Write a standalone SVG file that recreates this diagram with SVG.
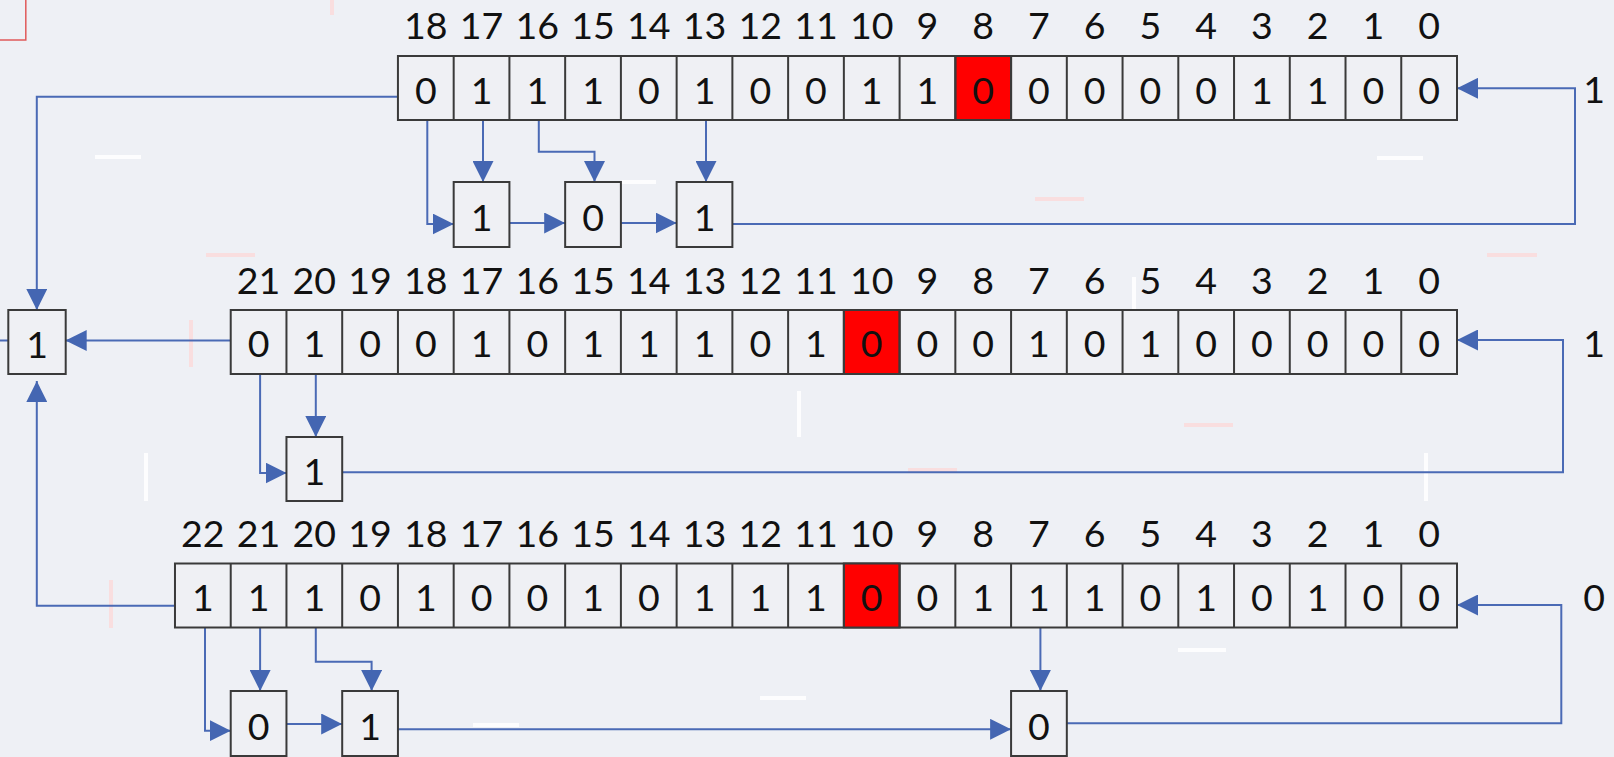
<svg xmlns="http://www.w3.org/2000/svg" width="1614" height="757" viewBox="0 0 1614 757">
<style>
.bx{fill:#eff0f4;stroke:#3a3a3a;stroke-width:2}
.red{fill:#ff0000;stroke:#3a3a3a;stroke-width:2}
.dv{fill:none;stroke:#3a3a3a;stroke-width:2}
.t{font-family:Lato,"Open Sans","Liberation Sans",sans-serif;font-size:37.5px;fill:#111;text-anchor:middle}
.c{fill:none;stroke:#4a6ab5;stroke-width:2}
.ca{fill:none;stroke:#4a6ab5;stroke-width:2;marker-end:url(#a)}
.wd{fill:#ffffff;opacity:0.85}
.pd{fill:#fbdada;opacity:0.8}
</style>
<defs>
<marker id="a" markerUnits="userSpaceOnUse" markerWidth="21" markerHeight="21" viewBox="0 0 21 21" refX="21" refY="10.5" orient="auto">
<path d="M0 0L21 10.5L0 21z" fill="#4466b2"/>
</marker>
</defs>
<rect x="0" y="0" width="1614" height="757" fill="#eef0f5"/>
<g id="decor">
<rect x="-5" y="-5" width="30.8" height="45" fill="none" stroke="#e05a5a" stroke-width="1.5"/>
<rect class="wd" x="95" y="155" width="46" height="4"/>
<rect class="wd" x="1377" y="156" width="46" height="4"/>
<rect class="wd" x="622" y="180" width="34" height="4"/>
<rect class="wd" x="797" y="391" width="4" height="46"/>
<rect class="wd" x="144" y="453" width="4" height="48"/>
<rect class="wd" x="1424" y="453" width="4" height="48"/>
<rect class="wd" x="1132" y="277" width="4" height="48"/>
<rect class="wd" x="1178" y="648" width="48" height="4"/>
<rect class="wd" x="760" y="696" width="46" height="4"/>
<rect class="wd" x="473" y="723" width="46" height="4"/>
<rect class="pd" x="1035" y="197" width="49" height="4"/>
<rect class="pd" x="1487" y="253" width="50" height="4"/>
<rect class="pd" x="206" y="253" width="49" height="4"/>
<rect class="pd" x="330" y="0" width="4" height="15"/>
<rect class="pd" x="1184" y="423" width="49" height="4"/>
<rect class="pd" x="908" y="468" width="49" height="4"/>
<rect class="pd" x="189" y="320" width="4" height="47"/>
<rect class="pd" x="109" y="580" width="4" height="48"/>
</g>
<g id="connectors">
<path class="ca" d="M397.9 96.7H36.8V310"/>
<path class="ca" d="M427.3 120V224H453.7"/>
<path class="ca" d="M483 120V182"/>
<path class="ca" d="M538.8 120V151.7H594.5V182"/>
<path class="ca" d="M706 120V182"/>
<path class="ca" d="M509.4 223H565.2"/>
<path class="ca" d="M620.9 223H676.6"/>
<path class="ca" d="M732.4 224H1575V88.3H1457"/>
<path class="ca" d="M230.7 340.5H65.7"/>
<path class="c" d="M0 340.5H8.3"/>
<path class="ca" d="M260.1 374V473H286.5"/>
<path class="ca" d="M315.8 374V437"/>
<path class="ca" d="M342.2 472.3H1563V340H1457"/>
<path class="ca" d="M175 605.7H36.8V381"/>
<path class="ca" d="M205 627.5V730.7H230.7"/>
<path class="ca" d="M260.1 627.5V691"/>
<path class="ca" d="M315.8 627.5V661.7H371.6V691"/>
<path class="ca" d="M286.5 724H342.2"/>
<path class="ca" d="M397.9 729.3H1011.1"/>
<path class="ca" d="M1040.4 627.5V691"/>
<path class="ca" d="M1066.8 723.3H1561.3V605H1457"/>
</g>
<g id="reg-top" transform="translate(0,56)">
<rect class="bx" x="397.94" y="0" width="1059.06" height="64"/>
<rect class="red" x="955.34" y="0" width="55.74" height="64"/>
<path class="dv" d="M1401.26 0V64M1345.52 0V64M1289.78 0V64M1234.04 0V64M1178.3 0V64M1122.56 0V64M1066.82 0V64M1011.08 0V64M955.34 0V64M899.6 0V64M843.86 0V64M788.12 0V64M732.38 0V64M676.64 0V64M620.9 0V64M565.16 0V64M509.42 0V64M453.68 0V64"/>
<text class="t" x="425.81" y="-17.5">18</text><text class="t" x="481.55" y="-17.5">17</text><text class="t" x="537.29" y="-17.5">16</text><text class="t" x="593.03" y="-17.5">15</text><text class="t" x="648.77" y="-17.5">14</text><text class="t" x="704.51" y="-17.5">13</text><text class="t" x="760.25" y="-17.5">12</text><text class="t" x="815.99" y="-17.5">11</text><text class="t" x="871.73" y="-17.5">10</text><text class="t" x="927.47" y="-17.5">9</text><text class="t" x="983.21" y="-17.5">8</text><text class="t" x="1038.95" y="-17.5">7</text><text class="t" x="1094.69" y="-17.5">6</text><text class="t" x="1150.43" y="-17.5">5</text><text class="t" x="1206.17" y="-17.5">4</text><text class="t" x="1261.91" y="-17.5">3</text><text class="t" x="1317.65" y="-17.5">2</text><text class="t" x="1373.39" y="-17.5">1</text><text class="t" x="1429.13" y="-17.5">0</text>
<text class="t" x="425.81" y="47.5">0</text><text class="t" x="481.55" y="47.5">1</text><text class="t" x="537.29" y="47.5">1</text><text class="t" x="593.03" y="47.5">1</text><text class="t" x="648.77" y="47.5">0</text><text class="t" x="704.51" y="47.5">1</text><text class="t" x="760.25" y="47.5">0</text><text class="t" x="815.99" y="47.5">0</text><text class="t" x="871.73" y="47.5">1</text><text class="t" x="927.47" y="47.5">1</text><text class="t" x="983.21" y="47.5">0</text><text class="t" x="1038.95" y="47.5">0</text><text class="t" x="1094.69" y="47.5">0</text><text class="t" x="1150.43" y="47.5">0</text><text class="t" x="1206.17" y="47.5">0</text><text class="t" x="1261.91" y="47.5">1</text><text class="t" x="1317.65" y="47.5">1</text><text class="t" x="1373.39" y="47.5">0</text><text class="t" x="1429.13" y="47.5">0</text>
</g>
<g id="reg-mid" transform="translate(0,310)">
<rect class="bx" x="230.72" y="0" width="1226.28" height="64"/>
<rect class="red" x="843.86" y="0" width="55.74" height="64"/>
<path class="dv" d="M1401.26 0V64M1345.52 0V64M1289.78 0V64M1234.04 0V64M1178.3 0V64M1122.56 0V64M1066.82 0V64M1011.08 0V64M955.34 0V64M899.6 0V64M843.86 0V64M788.12 0V64M732.38 0V64M676.64 0V64M620.9 0V64M565.16 0V64M509.42 0V64M453.68 0V64M397.94 0V64M342.2 0V64M286.46 0V64"/>
<text class="t" x="258.59" y="-16.5">21</text><text class="t" x="314.33" y="-16.5">20</text><text class="t" x="370.07" y="-16.5">19</text><text class="t" x="425.81" y="-16.5">18</text><text class="t" x="481.55" y="-16.5">17</text><text class="t" x="537.29" y="-16.5">16</text><text class="t" x="593.03" y="-16.5">15</text><text class="t" x="648.77" y="-16.5">14</text><text class="t" x="704.51" y="-16.5">13</text><text class="t" x="760.25" y="-16.5">12</text><text class="t" x="815.99" y="-16.5">11</text><text class="t" x="871.73" y="-16.5">10</text><text class="t" x="927.47" y="-16.5">9</text><text class="t" x="983.21" y="-16.5">8</text><text class="t" x="1038.95" y="-16.5">7</text><text class="t" x="1094.69" y="-16.5">6</text><text class="t" x="1150.43" y="-16.5">5</text><text class="t" x="1206.17" y="-16.5">4</text><text class="t" x="1261.91" y="-16.5">3</text><text class="t" x="1317.65" y="-16.5">2</text><text class="t" x="1373.39" y="-16.5">1</text><text class="t" x="1429.13" y="-16.5">0</text>
<text class="t" x="258.59" y="47">0</text><text class="t" x="314.33" y="47">1</text><text class="t" x="370.07" y="47">0</text><text class="t" x="425.81" y="47">0</text><text class="t" x="481.55" y="47">1</text><text class="t" x="537.29" y="47">0</text><text class="t" x="593.03" y="47">1</text><text class="t" x="648.77" y="47">1</text><text class="t" x="704.51" y="47">1</text><text class="t" x="760.25" y="47">0</text><text class="t" x="815.99" y="47">1</text><text class="t" x="871.73" y="47">0</text><text class="t" x="927.47" y="47">0</text><text class="t" x="983.21" y="47">0</text><text class="t" x="1038.95" y="47">1</text><text class="t" x="1094.69" y="47">0</text><text class="t" x="1150.43" y="47">1</text><text class="t" x="1206.17" y="47">0</text><text class="t" x="1261.91" y="47">0</text><text class="t" x="1317.65" y="47">0</text><text class="t" x="1373.39" y="47">0</text><text class="t" x="1429.13" y="47">0</text>
</g>
<g id="reg-bot" transform="translate(0,563.5)">
<rect class="bx" x="174.98" y="0" width="1282.02" height="64"/>
<rect class="red" x="843.86" y="0" width="55.74" height="64"/>
<path class="dv" d="M1401.26 0V64M1345.52 0V64M1289.78 0V64M1234.04 0V64M1178.3 0V64M1122.56 0V64M1066.82 0V64M1011.08 0V64M955.34 0V64M899.6 0V64M843.86 0V64M788.12 0V64M732.38 0V64M676.64 0V64M620.9 0V64M565.16 0V64M509.42 0V64M453.68 0V64M397.94 0V64M342.2 0V64M286.46 0V64M230.72 0V64"/>
<text class="t" x="202.85" y="-16.5">22</text><text class="t" x="258.59" y="-16.5">21</text><text class="t" x="314.33" y="-16.5">20</text><text class="t" x="370.07" y="-16.5">19</text><text class="t" x="425.81" y="-16.5">18</text><text class="t" x="481.55" y="-16.5">17</text><text class="t" x="537.29" y="-16.5">16</text><text class="t" x="593.03" y="-16.5">15</text><text class="t" x="648.77" y="-16.5">14</text><text class="t" x="704.51" y="-16.5">13</text><text class="t" x="760.25" y="-16.5">12</text><text class="t" x="815.99" y="-16.5">11</text><text class="t" x="871.73" y="-16.5">10</text><text class="t" x="927.47" y="-16.5">9</text><text class="t" x="983.21" y="-16.5">8</text><text class="t" x="1038.95" y="-16.5">7</text><text class="t" x="1094.69" y="-16.5">6</text><text class="t" x="1150.43" y="-16.5">5</text><text class="t" x="1206.17" y="-16.5">4</text><text class="t" x="1261.91" y="-16.5">3</text><text class="t" x="1317.65" y="-16.5">2</text><text class="t" x="1373.39" y="-16.5">1</text><text class="t" x="1429.13" y="-16.5">0</text>
<text class="t" x="202.85" y="47.5">1</text><text class="t" x="258.59" y="47.5">1</text><text class="t" x="314.33" y="47.5">1</text><text class="t" x="370.07" y="47.5">0</text><text class="t" x="425.81" y="47.5">1</text><text class="t" x="481.55" y="47.5">0</text><text class="t" x="537.29" y="47.5">0</text><text class="t" x="593.03" y="47.5">1</text><text class="t" x="648.77" y="47.5">0</text><text class="t" x="704.51" y="47.5">1</text><text class="t" x="760.25" y="47.5">1</text><text class="t" x="815.99" y="47.5">1</text><text class="t" x="871.73" y="47.5">0</text><text class="t" x="927.47" y="47.5">0</text><text class="t" x="983.21" y="47.5">1</text><text class="t" x="1038.95" y="47.5">1</text><text class="t" x="1094.69" y="47.5">1</text><text class="t" x="1150.43" y="47.5">0</text><text class="t" x="1206.17" y="47.5">1</text><text class="t" x="1261.91" y="47.5">0</text><text class="t" x="1317.65" y="47.5">1</text><text class="t" x="1373.39" y="47.5">0</text><text class="t" x="1429.13" y="47.5">0</text>
</g>
<g id="out"><rect class="bx" x="8.3" y="310" width="57.4" height="64"/><text class="t" x="37" y="357.5">1</text></g>
<g id="top-b17"><rect class="bx" x="453.68" y="182" width="55.74" height="65"/><text class="t" x="481.55" y="231">1</text></g>
<g id="top-b15"><rect class="bx" x="565.16" y="182" width="55.74" height="65"/><text class="t" x="593.03" y="231">0</text></g>
<g id="top-b13"><rect class="bx" x="676.64" y="182" width="55.74" height="65"/><text class="t" x="704.51" y="231">1</text></g>
<g id="mid-b20"><rect class="bx" x="286.46" y="437" width="55.74" height="64"/><text class="t" x="314.33" y="484.5">1</text></g>
<g id="bot-b21"><rect class="bx" x="230.72" y="691" width="55.74" height="65"/><text class="t" x="258.59" y="739.5">0</text></g>
<g id="bot-b19"><rect class="bx" x="342.2" y="691" width="55.74" height="65"/><text class="t" x="370.07" y="739.5">1</text></g>
<g id="bot-b7"><rect class="bx" x="1011.08" y="691" width="55.74" height="65"/><text class="t" x="1038.95" y="739.5">0</text></g>
<g id="in-top"><text class="t" x="1594" y="102.5">1</text></g>
<g id="in-mid"><text class="t" x="1594" y="356.5">1</text></g>
<g id="in-bot"><text class="t" x="1594" y="610.5">0</text></g>
</svg>
